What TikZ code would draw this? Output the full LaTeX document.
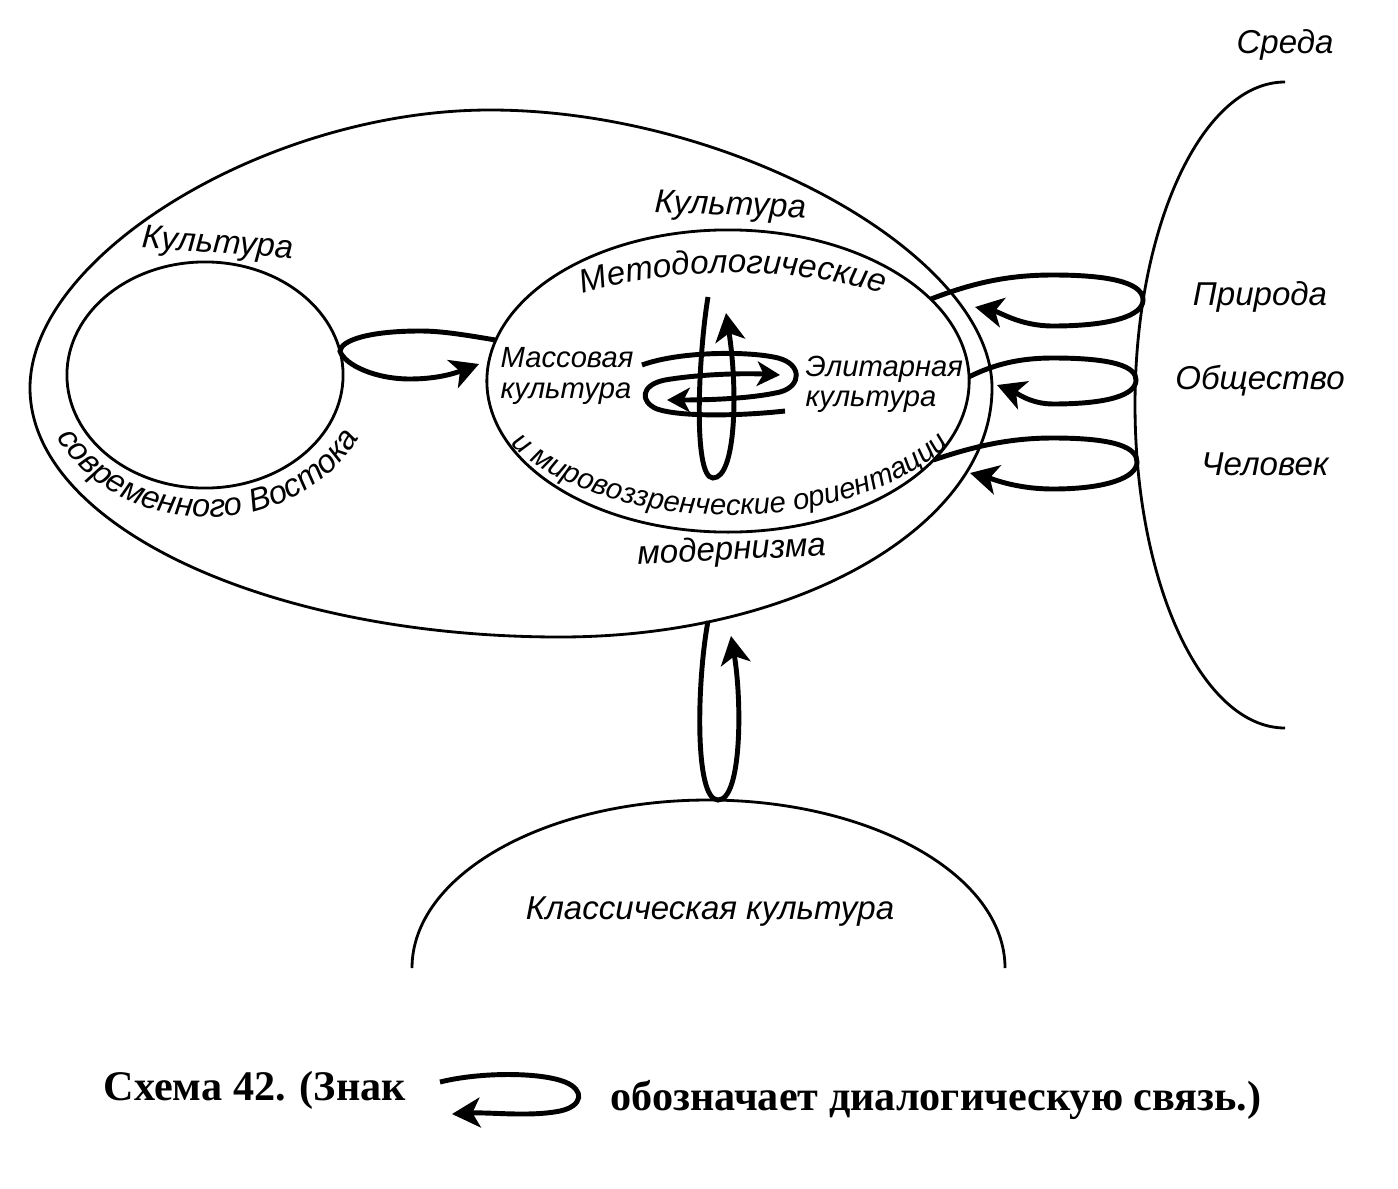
\documentclass[tikz,border=0pt]{standalone}
\usepackage{fontspec}
\setmainfont{Liberation Sans}
\newfontfamily\capfont{Liberation Serif}
\usetikzlibrary{shapes.geometric,arrows.meta,decorations.text}
\tikzset{
  thinline/.style={line width=0.8pt},
  ell/.style={ellipse,draw,line width=0.8pt,inner sep=0pt,outer sep=0pt},
  dlg/.style={line width=1.4pt,-{Stealth[length=8pt,width=8.5pt,inset=2.2pt]}},
  dlgs/.style={line width=1.4pt,-{Stealth[length=6.5pt,width=7pt,inset=1.8pt]}},
  lbl/.style={font=\itshape\fontsize{9.4}{10}\selectfont,inner sep=0pt},
  lbls/.style={font=\itshape\fontsize{8.3}{8.6}\selectfont,inner sep=0pt,align=left},
  captext/.style={font=\capfont\bfseries\fontsize{12}{14}\selectfont,inner sep=0pt}
}
\begin{document}
\begin{tikzpicture}[x=0.01cm,y=-0.01cm]
\useasboundingbox (0,0) rectangle (1398,1188);

% outer ellipse (culture of modernism), slightly narrower at the top
\draw[thinline] (992,388) .. controls (992,255) and (731,110) .. (490,110)
  .. controls (269,110) and (30,255) .. (30,388)
  .. controls (30,525) and (267,637) .. (560,637)
  .. controls (799,637) and (992,525) .. (992,388) -- cycle;

% inner ellipses
\node[ell,minimum width=4.82cm,minimum height=3.02cm] (modern) at (728,381) {};
\node[ell,minimum width=2.76cm,minimum height=2.26cm] (east) at (205,375) {};

% environment curve
\draw[thinline] (1285,82) .. controls (1202,82) and (1135,227) .. (1135,405) .. controls (1135,583) and (1202,728) .. (1285,728);
% classical culture arch
\draw[thinline] (412,968) .. controls (412,875) and (545,800) .. (708,800) .. controls (871,800) and (1005,875) .. (1005,968);

% labels
\node[lbl] (sreda) at (1285,45) {Среда};
\node[lbl] (priroda) at (1260,297) {Природа};
\node[lbl] (obsh) at (1260,381) {Общество};
\node[lbl] (chel) at (1265,464) {Человек};
\node[lbl] (classic) at (710,912) {Классическая культура};
\node[lbl,anchor=base,rotate=-2] (kultmod) at (730,215) {Культура};
\node[lbl,anchor=base,rotate=3] (modernizma) at (732,560) {модернизма};
\node[lbl,anchor=base,rotate=-4] (kulteast) at (217,253) {Культура};
\node[lbls,anchor=north west] (mass) at (500,347) {Массовая\\культура};
\node[lbls,anchor=north west] (elit) at (805,355) {Элитарная\\культура};

% curved labels
\path[decorate,decoration={text along path,text align=center,
  text={|\itshape\fontsize{9.4}{10}\selectfont|Методологические}}]
  (733,381) ++(-140:255 and 108) arc[start angle=-140,end angle=-40,x radius=255,y radius=108];
\path[decorate,decoration={text along path,text align=center,
  text={|\itshape\fontsize{8.3}{10}\selectfont|и мировоззренческие ориентации}}]
  (730,381) ++(172:248 and 134) arc[start angle=172,end angle=8,x radius=248,y radius=134];
\path[decorate,decoration={text along path,text align=center,
  text={|\itshape\fontsize{9.2}{10}\selectfont|современного Востока}}]
  (208,375) ++(172:168 and 142) arc[start angle=172,end angle=8,x radius=168,y radius=142];

% named free ends
\coordinate (tipA) at (975,307);
\coordinate (tipB) at (997,385);
\coordinate (tipC) at (970,473);
\coordinate (tipL) at (479,364);
\coordinate (vTop) at (708,297);
\coordinate (vTip) at (726,313);
\coordinate (bTop) at (708,621);
\coordinate (bTip) at (731,636);
\coordinate (s1) at (642,365);
\coordinate (h1tip) at (667,400);
\coordinate (s2) at (785,411);
\coordinate (h2tip) at (780,375);
\coordinate (kS) at (440,1082);
\coordinate (kTip) at (452,1114);

% dialogue loops to the environment
\draw[dlg] (modern.22) .. controls (975,282) and (1010,275) .. (1053,275) .. controls (1118,275) and (1143,285) .. (1143,300) .. controls (1143,316) and (1110,326) .. (1053,326) .. controls (1020,326) and (1000,312) .. (tipA);
\draw[dlg] (modern.1) .. controls (995,364) and (1020,358) .. (1053,358) .. controls (1115,358) and (1136,367) .. (1136,380) .. controls (1136,395) and (1108,404) .. (1053,404) .. controls (1030,404) and (1015,392) .. (tipB);
\draw[dlg] (modern.-21) .. controls (975,446) and (1010,438) .. (1053,438) .. controls (1117,438) and (1137,448) .. (1137,462) .. controls (1137,478) and (1105,489) .. (1053,489) .. controls (1015,489) and (990,478) .. (tipC);
% loop between East and modernism
\draw[dlg] (modern.170) .. controls (460,334) and (440,331) .. (420,331) .. controls (370,331) and (341,340) .. (east.10) .. controls (345,365) and (375,379) .. (410,379) .. controls (440,379) and (458,372) .. (tipL);
% vertical loop inside
\draw[dlg] (vTop) .. controls (699,350) and (692,478) .. (713,478) .. controls (736,478) and (738,390) .. (vTip);
% horizontal spiral (mass <-> elite)
\draw[dlgs] (s1) .. controls (680,351) and (750,351) .. (778,358) .. controls (802,364) and (802,386) .. (780,392) .. controls (750,399) and (705,400) .. (h1tip);
\draw[dlgs] (s2) .. controls (740,416) and (680,417) .. (657,409) .. controls (640,402) and (640,385) .. (665,380) .. controls (700,374) and (745,373) .. (h2tip);
% loop with classical culture
\draw[dlg] (bTop) .. controls (697,680) and (694,800) .. (718,800) .. controls (742,800) and (742,700) .. (bTip);

% caption
\node[captext,anchor=base west] (cap1) at (103,1100) {Схема 42. (Знак};
\draw[dlg] (kS) .. controls (480,1072) and (540,1072) .. (565,1082) .. controls (585,1090) and (583,1106) .. (560,1111) .. controls (530,1117) and (490,1112) .. (kTip);
\node[captext,anchor=base west] (cap2) at (610,1110) {обозначает диалогическую связь.)};
\end{tikzpicture}
\end{document}
